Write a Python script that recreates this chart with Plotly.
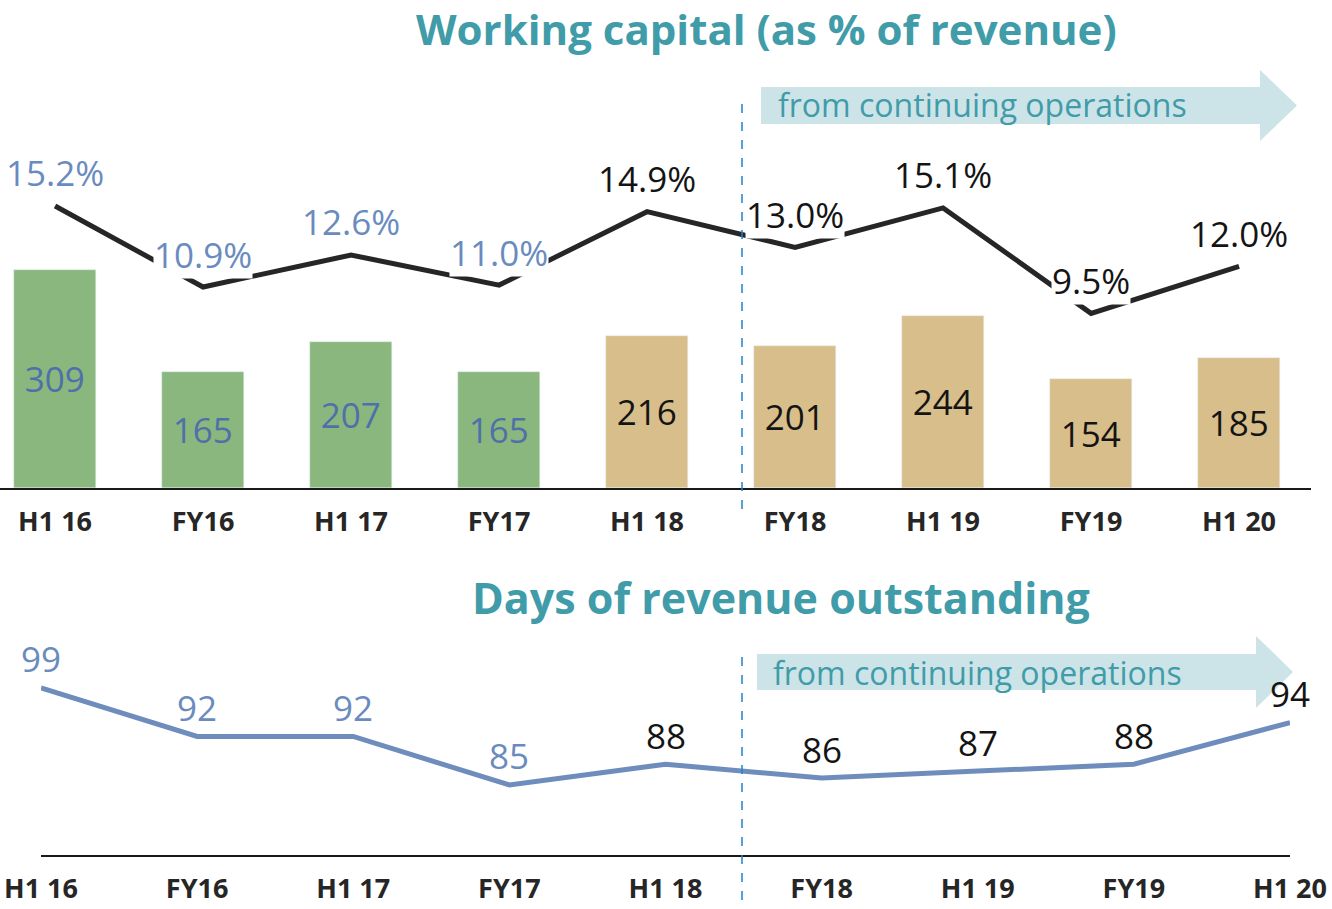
import plotly.graph_objects as go

W, H = 1332, 909

periods = ["H1 16", "FY16", "H1 17", "FY17", "H1 18", "FY18", "H1 19", "FY19", "H1 20"]
working_capital = [309, 165, 207, 165, 216, 201, 244, 154, 185]
wc_pct = [15.2, 10.9, 12.6, 11.0, 14.9, 13.0, 15.1, 9.5, 12.0]
wc_pct_labels = ["15.2%", "10.9%", "12.6%", "11.0%", "14.9%", "13.0%", "15.1%", "9.5%", "12.0%"]
days_outstanding = [99, 92, 92, 85, 88, 86, 87, 88, 94]

GREEN = "#8AB77E"
TAN = "#D8BE8A"
LBL_BLUE = "#6A8BBE"
BAR_LBL_BLUE = "#4F70A9"
LBL_DARK = "#141414"
TEAL = "#3F9CA8"
ARROW_FILL = "#CCE3E8"
DIVIDER = "#1C82D4"
FONT = "Open Sans, Noto Sans, sans-serif"

n_old = 4  # periods before the continuing-operations split
n_new = len(periods) - n_old
bar_colors = [GREEN] * n_old + [TAN] * n_new
lbl_colors = [LBL_BLUE] * n_old + [LBL_DARK] * n_new
bar_lbl_colors = [BAR_LBL_BLUE] * n_old + [LBL_DARK] * n_new


def px(x):
    return x / W


def py(y):
    return 1 - y / H


fig = go.Figure()

# Working capital bars
fig.add_trace(go.Bar(
    x=periods, y=working_capital, marker_color=bar_colors, width=0.555,
    text=[str(v) for v in working_capital], textposition="inside",
    insidetextanchor="middle",
    textfont=dict(size=35, color=bar_lbl_colors, family=FONT),
    xaxis="x", yaxis="y", showlegend=False, hoverinfo="skip",
))

# Working capital as % of revenue
fig.add_trace(go.Scatter(
    x=periods, y=wc_pct, mode="lines", line=dict(color="#262626", width=5),
    xaxis="x", yaxis="y2", showlegend=False, cliponaxis=False, hoverinfo="skip",
))

# Days of revenue outstanding
fig.add_trace(go.Scatter(
    x=periods, y=days_outstanding, mode="lines", line=dict(color="#6E8DBD", width=5),
    xaxis="x3", yaxis="y3", showlegend=False, cliponaxis=False, hoverinfo="skip",
))

annotations = []
for p, v, t, c in zip(periods, wc_pct, wc_pct_labels, lbl_colors):
    annotations.append(dict(
        x=p, y=v, xref="x", yref="y2", text=t, showarrow=False, yshift=33,
        font=dict(size=35, color=c, family=FONT), bgcolor="white", borderpad=0,
    ))
for p, v, c in zip(periods, days_outstanding, lbl_colors):
    annotations.append(dict(
        x=p, y=v, xref="x3", yref="y3", text=str(v), showarrow=False, yshift=29,
        font=dict(size=35, color=c, family=FONT),
    ))

# Titles
annotations.append(dict(
    x=px(766), y=py(29), xref="paper", yref="paper", text="<b>Working capital (as % of revenue)</b>",
    showarrow=False, font=dict(size=42, color=TEAL, family=FONT), yanchor="middle",
))
annotations.append(dict(
    x=px(781), y=py(597), xref="paper", yref="paper", text="<b>Days of revenue outstanding</b>",
    showarrow=False, font=dict(size=43, color=TEAL, family=FONT), yanchor="middle",
))

# Arrow captions
annotations.append(dict(
    x=px(776), y=py(105), xref="paper", yref="paper", text="from continuing operations",
    showarrow=False, xanchor="left", yanchor="middle", font=dict(size=32, color=TEAL, family=FONT),
))
annotations.append(dict(
    x=px(771), y=py(672), xref="paper", yref="paper", text="from continuing operations",
    showarrow=False, xanchor="left", yanchor="middle", font=dict(size=32, color=TEAL, family=FONT),
))


def arrow_path(x0, x_head, x_tip, y_top, y_bot, head_top, head_bot):
    ym = (y_top + y_bot) / 2
    pts = [(x0, y_top), (x_head, y_top), (x_head, head_top), (x_tip, ym),
           (x_head, head_bot), (x_head, y_bot), (x0, y_bot)]
    return "M " + " L ".join(f"{px(a):.5f},{py(b):.5f}" for a, b in pts) + " Z"


shapes = [
    dict(type="path", xref="paper", yref="paper", layer="below",
         path=arrow_path(761, 1260, 1297, 87, 124, 70, 141),
         fillcolor=ARROW_FILL, line=dict(width=0)),
    dict(type="path", xref="paper", yref="paper", layer="below",
         path=arrow_path(757, 1256, 1293, 654, 690, 636, 708),
         fillcolor=ARROW_FILL, line=dict(width=0)),
    dict(type="line", xref="paper", yref="paper", x0=px(742), x1=px(742), y0=py(104), y1=py(515),
         line=dict(color=DIVIDER, width=1.5, dash="dash")),
    dict(type="line", xref="paper", yref="paper", x0=px(742), x1=px(742), y0=py(657), y1=py(909),
         line=dict(color=DIVIDER, width=1.5, dash="dash")),
]

tick_font = dict(size=27, color="#262626", family=FONT)
tick_text = [f"<b>{p}</b>" for p in periods]

fig.update_layout(
    width=W, height=H, margin=dict(l=0, r=0, t=0, b=0, autoexpand=False),
    paper_bgcolor="white", plot_bgcolor="rgba(0,0,0,0)",
    bargap=0, annotations=annotations, shapes=shapes,
    xaxis=dict(domain=[0, px(1311)], range=[-0.372, 8.486], showline=True, linecolor="#1a1a1a",
               linewidth=2, showgrid=False, zeroline=False, ticks="", tickfont=tick_font,
               tickmode="array", tickvals=periods, ticktext=tick_text, ticklabelstandoff=9,
               automargin=False, anchor="y"),
    yaxis=dict(domain=[py(488), py(60)], range=[0, 607], visible=False, anchor="x"),
    yaxis2=dict(domain=[py(488), py(60)], range=[0.23, 22.95], visible=False,
                overlaying="y", anchor="x"),
    xaxis3=dict(domain=[px(41), px(1290)], range=[0, 8], showline=True, linecolor="#1a1a1a",
                linewidth=2, showgrid=False, zeroline=False, ticks="", tickfont=tick_font,
                tickmode="array", tickvals=periods, ticktext=tick_text, ticklabelstandoff=9,
                automargin=False, anchor="y3"),
    yaxis3=dict(domain=[py(855), py(620)], range=[74.9, 108.8], visible=False, anchor="x3"),
)

fig.write_html("out.html")
